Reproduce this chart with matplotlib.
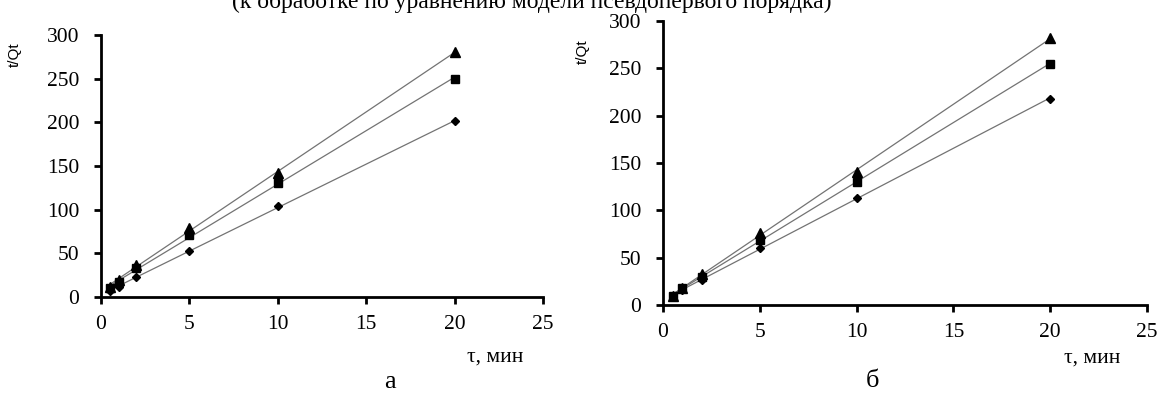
import numpy as np
import matplotlib
matplotlib.use("Agg")
import matplotlib.pyplot as plt

plt.rcParams["font.family"] = ["Liberation Serif", "DejaVu Serif"]

tau = [0.5, 1, 2, 5, 10, 20]

# panel a
a_tri = [12, 19.5, 37, 79, 142, 280]
a_sq = [10, 17, 33, 71, 131, 250]
a_dia = [7, 12, 23, 53, 104, 201]

# panel b
b_tri = [10, 18, 33, 76, 140, 282]
b_sq = [10, 17.5, 30, 69, 130, 255]
b_dia = [10, 16, 26.5, 60, 113.5, 218]

panels = [("а", (a_tri, a_sq, a_dia)), ("б", (b_tri, b_sq, b_dia))]
markers = [("^", 6.5), ("s", 5.5), ("D", 4)]

fig = plt.figure(figsize=(11.66, 3.94), dpi=100)
boxes = [[0.0866, 0.2462, 0.3791, 0.6650], [0.5686, 0.2259, 0.4151, 0.7208]]

for (letter, series), box in zip(panels, boxes):
    ax = fig.add_axes(box)
    x = np.array(tau)
    for ys, (m, ms) in zip(series, markers):
        k, b = np.polyfit(x, ys, 1)
        ax.plot(x, k * x + b, color="0.45", lw=0.9, zorder=2)
        ax.plot(x, ys, m, color="black", ms=ms, zorder=3)
    ax.set_xlim(0, 25)
    ax.set_ylim(0, 300)
    ax.set_xticks([0, 5, 10, 15, 20, 25])
    ax.set_yticks(range(0, 301, 50))
    for s in ("top", "right"):
        ax.spines[s].set_visible(False)
    for s in ("left", "bottom"):
        ax.spines[s].set_linewidth(2)
    ax.tick_params(axis="x", direction="out", length=5, width=2, pad=8, labelsize=15.5)
    ax.tick_params(axis="y", direction="out", length=5, width=2, pad=10.5, labelsize=15.5)
    ax.patch.set_alpha(0)

fig.text(0.013, 0.86, "t/Qt", rotation=90, fontsize=11, family="Liberation Sans",
         ha="center", va="center")
fig.text(0.500, 0.87, "t/Qt", rotation=90, fontsize=11, family="Liberation Sans",
         ha="center", va="center")
fig.text(0.425, 0.094, "τ, мин", fontsize=15.5, ha="center", va="center")
fig.text(0.937, 0.091, "τ, мин", fontsize=15.5, ha="center", va="center")
fig.text(0.3345, 0.030, "а", fontsize=19, ha="center", va="center")
fig.text(0.748, 0.032, "б", fontsize=19, ha="center", va="center")
# heading is cut by the top edge in the source image as well
fig.text(0.456, 1 - 8 / 394, "(к обработке по уравнению модели псевдопервого порядка)",
         fontsize=17, ha="center", va="baseline")

fig.savefig("out.png", dpi=100)
